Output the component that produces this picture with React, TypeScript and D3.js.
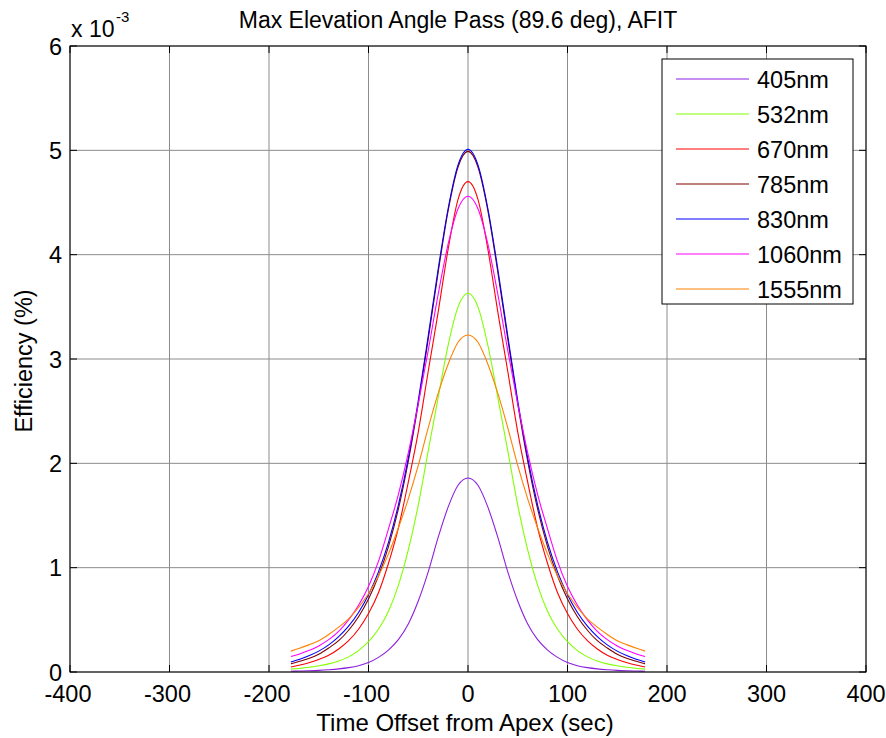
import React from "react";
import * as d3 from "d3";

const TIME = [-178,-170,-160,-150,-140,-130,-120,-110,-100,-90,-80,-70,-60,-50,-40,-30,-20,-10,0,10,20,30,40,50,60,70,80,90,100,110,120,130,140,150,160,170,178];

const NM405 = [0.007,0.009,0.012,0.016,0.022,0.03,0.042,0.06,0.09,0.14,0.21,0.31,0.46,0.68,0.96,1.29,1.58,1.79,1.86,1.79,1.58,1.29,0.96,0.68,0.46,0.31,0.21,0.14,0.09,0.06,0.042,0.03,0.022,0.016,0.012,0.009,0.007];
const NM532 = [0.027,0.034,0.045,0.06,0.078,0.105,0.145,0.205,0.29,0.41,0.58,0.83,1.17,1.60,2.12,2.63,3.13,3.50,3.63,3.50,3.13,2.63,2.12,1.60,1.17,0.83,0.58,0.41,0.29,0.205,0.145,0.105,0.078,0.06,0.045,0.034,0.027];
const NM670 = [0.048,0.064,0.088,0.12,0.16,0.22,0.30,0.41,0.56,0.76,1.04,1.38,1.82,2.30,2.88,3.45,4.05,4.53,4.70,4.53,4.05,3.45,2.88,2.30,1.82,1.38,1.04,0.76,0.56,0.41,0.30,0.22,0.16,0.12,0.088,0.064,0.048];
const NM785 = [0.078,0.10,0.13,0.17,0.23,0.30,0.40,0.53,0.70,0.92,1.20,1.56,2.02,2.57,3.19,3.83,4.42,4.84,4.99,4.84,4.42,3.83,3.19,2.57,2.02,1.56,1.20,0.92,0.70,0.53,0.40,0.30,0.23,0.17,0.13,0.10,0.078];
const NM830 = [0.095,0.12,0.155,0.20,0.26,0.34,0.44,0.57,0.74,0.96,1.24,1.60,2.05,2.60,3.22,3.86,4.44,4.86,5.01,4.86,4.44,3.86,3.22,2.60,2.05,1.60,1.24,0.96,0.74,0.57,0.44,0.34,0.26,0.20,0.155,0.12,0.095];
const NM1060 = [0.148,0.17,0.205,0.25,0.31,0.39,0.50,0.64,0.82,1.06,1.37,1.70,2.10,2.57,3.08,3.62,4.10,4.44,4.56,4.44,4.10,3.62,3.08,2.57,2.10,1.70,1.37,1.06,0.82,0.64,0.50,0.39,0.31,0.25,0.205,0.17,0.148];
const NM1555 = [0.20,0.225,0.26,0.30,0.36,0.43,0.51,0.62,0.75,0.92,1.13,1.38,1.66,1.98,2.34,2.67,2.95,3.16,3.23,3.16,2.95,2.67,2.34,1.98,1.66,1.38,1.13,0.92,0.75,0.62,0.51,0.43,0.36,0.30,0.26,0.225,0.20];

const SERIES_NAMES = ["405nm","532nm","670nm","785nm","830nm","1060nm","1555nm"];
const SERIES_VALUES = [NM405, NM532, NM670, NM785, NM830, NM1060, NM1555];
const SERIES_COLORS = ["#8c1fe0","#80ff00","#ff0000","#800000","#0000ff","#ff00ff","#ff8000"];

const X_TICKS = [-400,-300,-200,-100,0,100,200,300,400];
const Y_TICKS = [0,1,2,3,4,5,6];

const TITLE = "Max Elevation Angle Pass (89.6 deg), AFIT";
const X_LABEL = "Time Offset from Apex (sec)";
const Y_LABEL = "Efficiency (%)";

const W = 886, H = 738;
const L = 70, R = 866, T = 46, B = 672;
const FONT = "'Liberation Sans', Arial, Helvetica, sans-serif";

export default function App() {
  const x = d3.scaleLinear().domain([-400, 400]).range([L, R]);
  const y = d3.scaleLinear().domain([0, 6]).range([B, T]);
  const line = d3.line<number>()
    .x((_, i) => x(TIME[i]))
    .y((d) => y(d))
    .curve(d3.curveMonotoneX);
  const tickLen = 7;
  const legX = 662, legY = 59, legW = 191, legH = 245;
  const rowH = 35;

  return (
    <svg width={W} height={H} style={{ position: "absolute", left: 0, top: 0, background: "#fff" }} fontFamily={FONT}>
      <rect x={0} y={0} width={W} height={H} fill="#fff" />
      {/* grid */}
      {X_TICKS.map((t) => (
        <line key={"gx" + t} x1={x(t)} x2={x(t)} y1={T} y2={B} stroke="#8c8c8c" strokeWidth={1} />
      ))}
      {Y_TICKS.map((t) => (
        <line key={"gy" + t} x1={L} x2={R} y1={y(t)} y2={y(t)} stroke="#8c8c8c" strokeWidth={1} />
      ))}
      {/* series */}
      {SERIES_VALUES.map((vals, i) => (
        <path key={SERIES_NAMES[i]} d={line(vals) || ""} fill="none" stroke={SERIES_COLORS[i]} strokeWidth={1.1} />
      ))}
      {/* box */}
      <rect x={L} y={T} width={R - L} height={B - T} fill="none" stroke="#000" strokeWidth={1} />
      {/* ticks */}
      {X_TICKS.map((t) => (
        <g key={"tx" + t}>
          <line x1={x(t)} x2={x(t)} y1={B} y2={B - tickLen} stroke="#000" />
          <line x1={x(t)} x2={x(t)} y1={T} y2={T + tickLen} stroke="#000" />
          <text x={x(t) - (t < 0 ? 2 : 0)} y={B + 30} textAnchor="middle" fontSize={23.5} fill="#000">{t}</text>
        </g>
      ))}
      {Y_TICKS.map((t) => (
        <g key={"ty" + t}>
          <line x1={L} x2={L + tickLen} y1={y(t)} y2={y(t)} stroke="#000" />
          <line x1={R} x2={R - tickLen} y1={y(t)} y2={y(t)} stroke="#000" />
          <text x={L - 8} y={y(t) + 8.5} textAnchor="end" fontSize={23.5} fill="#000">{t}</text>
        </g>
      ))}
      {/* exponent */}
      <text x={71} y={37} fontSize={23} fill="#000">x 10</text>
      <text x={116} y={22} fontSize={15} fill="#000">-3</text>
      {/* title and labels */}
      <text x={458} y={28} textAnchor="middle" fontSize={23} fill="#000">{TITLE}</text>
      <text x={465} y={731} textAnchor="middle" fontSize={24} fill="#000">{X_LABEL}</text>
      <text transform={`translate(32, ${(T + B) / 2 + 2}) rotate(-90)`} textAnchor="middle" fontSize={23.5} fill="#000">{Y_LABEL}</text>
      {/* legend */}
      <rect x={legX} y={legY} width={legW} height={legH} fill="#fff" stroke="#000" strokeWidth={1} />
      {SERIES_NAMES.map((name, i) => {
        const cy = legY + 20 + i * rowH;
        return (
          <g key={"lg" + name}>
            <line x1={676} x2={749} y1={cy} y2={cy} stroke={SERIES_COLORS[i]} strokeWidth={1.1} />
            <text x={757} y={cy + 8.5} fontSize={23.5} fill="#000">{name}</text>
          </g>
        );
      })}
    </svg>
  );
}
